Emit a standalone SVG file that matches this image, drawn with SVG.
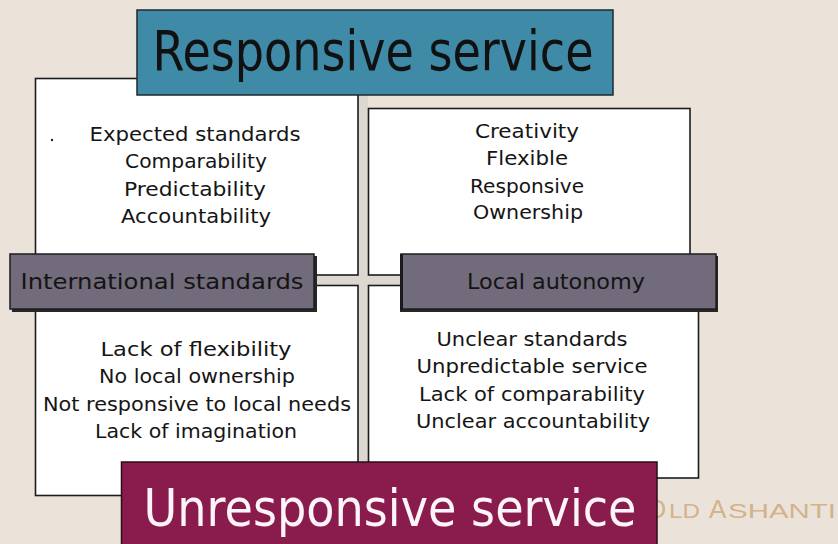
<svg xmlns="http://www.w3.org/2000/svg" width="838" height="544" viewBox="0 0 838 544">
  <defs>
    <style>
      .quad { fill: #ffffff; stroke: #1c1c1c; stroke-width: 1.6; }
      .band { fill: #dcd7cf; }
      .item { font-family: "DejaVu Sans", "Liberation Sans", sans-serif; font-size: 20px; fill: #151515; text-anchor: middle; }
      .label-box { fill: #716b7b; stroke: #1e1e1e; stroke-width: 1.5; }
      .label-shadow { fill: #262626; }
      .label-text { font-family: "DejaVu Sans", "Liberation Sans", sans-serif; font-size: 22px; fill: #141414; text-anchor: middle; }
      .banner-text { font-family: "DejaVu Sans", "Liberation Sans", sans-serif; font-size: 46px; text-anchor: middle; }
      .mark { font-family: "Liberation Sans", "DejaVu Sans", sans-serif; fill: #d3b28c; }
    </style>
  </defs>

  <!-- page background -->
  <rect x="0" y="0" width="838" height="544" fill="#ebe3da"/>

  <!-- faint watermark lettering, partly covered by the lower banner -->
  <text class="mark" y="518"><tspan x="646" font-size="26">O</tspan><tspan x="669" font-size="20" textLength="31" lengthAdjust="spacingAndGlyphs">LD</tspan><tspan x="709" font-size="26">A</tspan><tspan x="728" font-size="20" textLength="108" lengthAdjust="spacingAndGlyphs">SHANTI</tspan></text>

  <!-- cross-shaped band joining the four quadrants and the two axis labels -->
  <g id="connectors">
    <rect class="band" x="358" y="92" width="10" height="372"/>
    <rect class="band" x="312" y="275" width="92" height="10"/>
  </g>

  <!-- quadrants -->
  <g id="quad-top-left">
    <rect class="quad" x="35.5" y="78.5" width="322.5" height="196.5"/>
    <circle cx="52" cy="140" r="1.2" fill="#222"/>
    <text class="item" x="195" y="141" textLength="211" lengthAdjust="spacingAndGlyphs">Expected standards</text>
    <text class="item" x="196" y="168" textLength="142" lengthAdjust="spacingAndGlyphs">Comparability</text>
    <text class="item" x="195" y="196" textLength="142" lengthAdjust="spacingAndGlyphs">Predictability</text>
    <text class="item" x="196" y="223" textLength="150" lengthAdjust="spacingAndGlyphs">Accountability</text>
  </g>

  <g id="quad-top-right">
    <rect class="quad" x="368.5" y="108.5" width="321.5" height="166.5"/>
    <text class="item" x="527" y="138" textLength="104" lengthAdjust="spacingAndGlyphs">Creativity</text>
    <text class="item" x="527" y="165" textLength="82" lengthAdjust="spacingAndGlyphs">Flexible</text>
    <text class="item" x="527" y="193" textLength="114" lengthAdjust="spacingAndGlyphs">Responsive</text>
    <text class="item" x="528" y="219" textLength="110" lengthAdjust="spacingAndGlyphs">Ownership</text>
  </g>

  <g id="quad-bottom-left">
    <rect class="quad" x="35.5" y="285.5" width="322.5" height="210"/>
    <text class="item" x="196" y="356" textLength="191" lengthAdjust="spacingAndGlyphs">Lack of flexibility</text>
    <text class="item" x="197" y="383" textLength="196" lengthAdjust="spacingAndGlyphs">No local ownership</text>
    <text class="item" x="197" y="411" textLength="308" lengthAdjust="spacingAndGlyphs">Not responsive to local needs</text>
    <text class="item" x="196" y="438" textLength="202" lengthAdjust="spacingAndGlyphs">Lack of imagination</text>
  </g>

  <g id="quad-bottom-right">
    <rect class="quad" x="368.5" y="285.5" width="330" height="192.5"/>
    <text class="item" x="532" y="346" textLength="191" lengthAdjust="spacingAndGlyphs">Unclear standards</text>
    <text class="item" x="532" y="373" textLength="231" lengthAdjust="spacingAndGlyphs">Unpredictable service</text>
    <text class="item" x="532" y="401" textLength="226" lengthAdjust="spacingAndGlyphs">Lack of comparability</text>
    <text class="item" x="533" y="428" textLength="234" lengthAdjust="spacingAndGlyphs">Unclear accountability</text>
  </g>

  <!-- top banner -->
  <g id="responsive-service">
    <rect x="137" y="10" width="476" height="85" fill="#3f8aa7" stroke="#1d2a30" stroke-width="1.5"/>
    <text class="banner-text" transform="translate(373 70) scale(1 1.2)" x="0" y="0" fill="#111111" textLength="441" lengthAdjust="spacingAndGlyphs">Responsive service</text>
  </g>

  <!-- axis labels -->
  <g id="international-standards">
    <rect class="label-shadow" x="12" y="256" width="305" height="56"/>
    <rect class="label-box" x="10" y="254" width="304" height="55"/>
    <text class="label-text" x="162" y="289" textLength="283" lengthAdjust="spacingAndGlyphs">International standards</text>
  </g>

  <g id="local-autonomy">
    <rect class="label-shadow" x="400" y="256" width="318" height="56"/>
    <rect class="label-box" x="401" y="254" width="315" height="55"/>
    <rect x="400" y="254" width="3" height="56" fill="#1a1a1a"/>
    <text class="label-text" x="556" y="289" textLength="178" lengthAdjust="spacingAndGlyphs">Local autonomy</text>
  </g>

  <!-- bottom banner -->
  <g id="unresponsive-service">
    <rect x="121.5" y="462" width="535.5" height="90" fill="#8a1c4d" stroke="#2a0d18" stroke-width="1.5"/>
    <text class="banner-text" transform="translate(390 526) scale(1 1.13)" x="0" y="0" fill="#fbf4f8" textLength="493" lengthAdjust="spacingAndGlyphs">Unresponsive service</text>
  </g>
</svg>
